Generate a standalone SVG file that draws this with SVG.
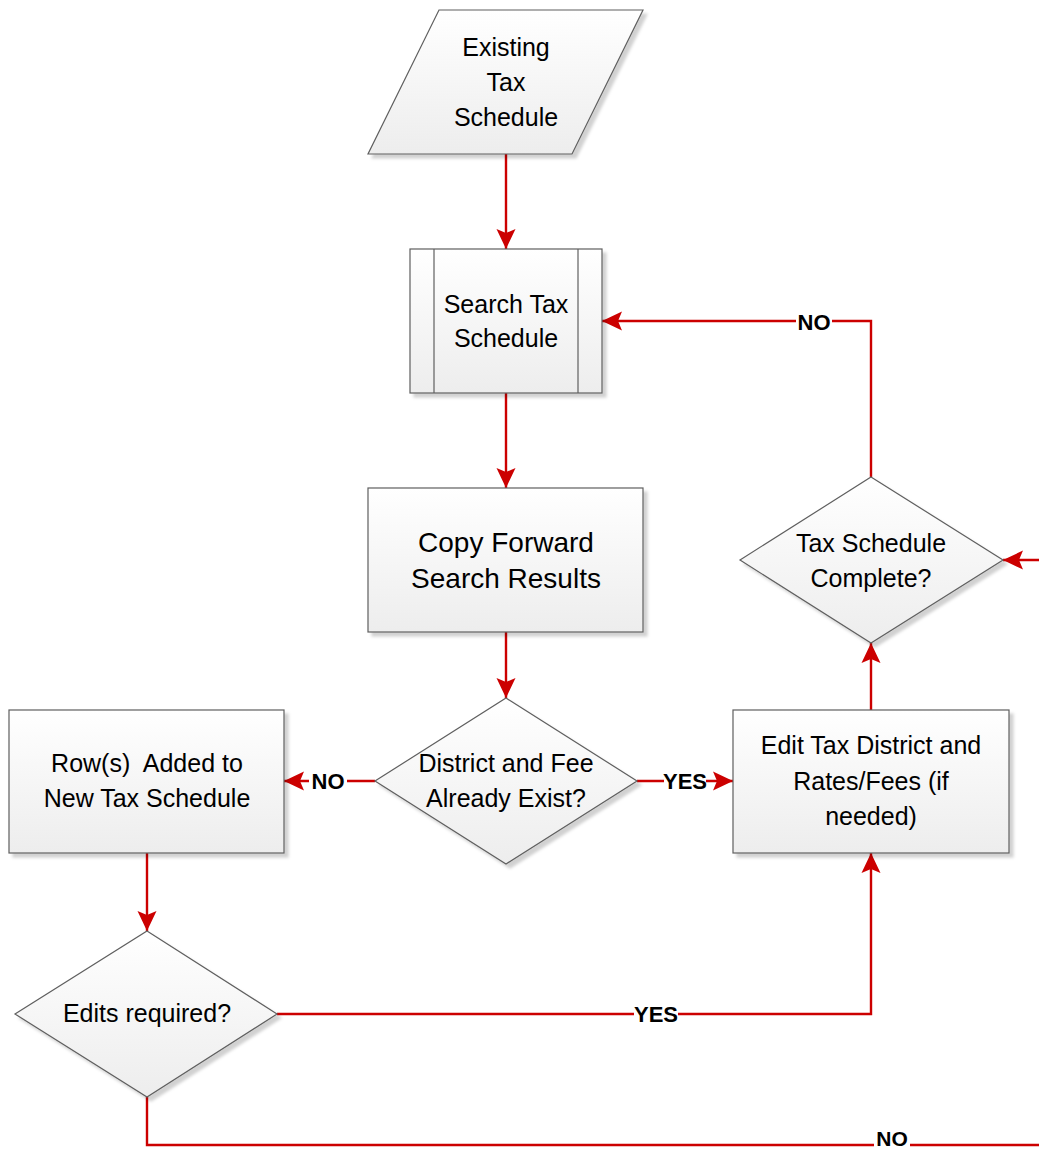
<svg xmlns="http://www.w3.org/2000/svg" width="1039" height="1151" viewBox="0 0 1039 1151">
  <defs>
    <linearGradient id="fillGrad" x1="0" y1="0" x2="0" y2="1">
      <stop offset="0" stop-color="#ffffff"/>
      <stop offset="1" stop-color="#ededed"/>
    </linearGradient>
    <filter id="shadow" x="-10%" y="-10%" width="125%" height="125%">
      <feGaussianBlur in="SourceAlpha" stdDeviation="1.5" result="blur"/>
      <feOffset in="blur" dx="4" dy="4" result="off"/>
      <feFlood flood-color="#000000" flood-opacity="0.18"/>
      <feComposite in2="off" operator="in" result="sh"/>
      <feMerge>
        <feMergeNode in="sh"/>
        <feMergeNode in="SourceGraphic"/>
      </feMerge>
    </filter>
    <marker id="arrow" markerUnits="userSpaceOnUse" markerWidth="22" markerHeight="22" viewBox="0 0 22 22" refX="20" refY="11" orient="auto">
      <path d="M0,1.5 L20,11 L0,20.5 L4,11 Z" fill="#cc0000"/>
    </marker>
  </defs>
  <style>
    .node { fill: url(#fillGrad); stroke: #5f5f5f; stroke-width: 1.2; filter: url(#shadow); }
    .inner { stroke: #5f5f5f; stroke-width: 1.2; fill: none; }
    .txt { font-family: "Liberation Sans", Arial, sans-serif; font-size: 25px; fill: #000; text-anchor: middle; }
    .big { font-size: 28px; }
    .conn { fill: none; stroke: #cc0000; stroke-width: 2.4; }
    .arr { marker-end: url(#arrow); }
    .lbl { font-family: "Liberation Sans", Arial, sans-serif; font-size: 22px; font-weight: bold; fill: #000; text-anchor: middle; }
    .lblbg { fill: #ffffff; }
  </style>

  <g id="connectors">
    <path class="conn arr" d="M506,154 L506,249"/>
    <path class="conn arr" d="M506,393 L506,488"/>
    <path class="conn arr" d="M506,632 L506,698"/>
    <path class="conn arr" d="M375,781 L284,781"/>
    <path class="conn arr" d="M637,781 L733,781"/>
    <path class="conn arr" d="M871,710 L871,643"/>
    <path class="conn arr" d="M871,477 L871,321 L602,321"/>
    <path class="conn arr" d="M147,853 L147,931"/>
    <path class="conn arr" d="M277,1014 L871,1014 L871,853"/>
    <path class="conn" d="M147,1097 L147,1145 L1039,1145"/>
    <path class="conn arr" d="M1039,560 L1003,560"/>

    <!-- branch labels -->
    <rect class="lblbg" x="796" y="310" width="36" height="24"/>
    <text class="lbl" x="814" y="330">NO</text>
    <rect class="lblbg" x="309" y="770" width="38" height="24"/>
    <text class="lbl" x="328" y="789">NO</text>
    <rect class="lblbg" x="664" y="770" width="42" height="24"/>
    <text class="lbl" x="685" y="789">YES</text>
    <rect class="lblbg" x="634" y="1003" width="44" height="24"/>
    <text class="lbl" x="656" y="1022">YES</text>
    <rect class="lblbg" x="874" y="1129" width="36" height="22"/>
    <text class="lbl" x="892" y="1146" style="font-size:21px">NO</text>
  </g>

  <g id="existing-tax-schedule">
    <polygon class="node" points="439,10 643,10 572,154 368,154"/>
    <text class="txt" x="506" y="56">Existing</text>
    <text class="txt" x="506" y="91">Tax</text>
    <text class="txt" x="506" y="126">Schedule</text>
  </g>

  <g id="search-tax-schedule">
    <rect class="node" x="410" y="249" width="192" height="144"/>
    <line class="inner" x1="434" y1="249" x2="434" y2="393"/>
    <line class="inner" x1="578" y1="249" x2="578" y2="393"/>
    <text class="txt" x="506" y="313">Search Tax</text>
    <text class="txt" x="506" y="347">Schedule</text>
  </g>

  <g id="copy-forward">
    <rect class="node" x="368" y="488" width="275" height="144"/>
    <text class="txt big" x="506" y="552">Copy Forward</text>
    <text class="txt big" x="506" y="588">Search Results</text>
  </g>

  <g id="district-fee-exist">
    <polygon class="node" points="506,698 637,781 506,864 375,781"/>
    <text class="txt" x="506" y="772">District and Fee</text>
    <text class="txt" x="506" y="807">Already Exist?</text>
  </g>

  <g id="rows-added">
    <rect class="node" x="9" y="710" width="275" height="143"/>
    <text class="txt" x="147" y="772" style="white-space:pre">Row(s)  Added to</text>
    <text class="txt" x="147" y="807">New Tax Schedule</text>
  </g>

  <g id="edit-tax-district">
    <rect class="node" x="733" y="710" width="276" height="143"/>
    <text class="txt" x="871" y="754">Edit Tax District and</text>
    <text class="txt" x="871" y="790">Rates/Fees (if</text>
    <text class="txt" x="871" y="825">needed)</text>
  </g>

  <g id="tax-schedule-complete">
    <polygon class="node" points="871,477 1003,560 871,643 740,560"/>
    <text class="txt" x="871" y="552">Tax Schedule</text>
    <text class="txt" x="871" y="587">Complete?</text>
  </g>

  <g id="edits-required">
    <polygon class="node" points="147,931 277,1014 147,1097 15,1014"/>
    <text class="txt" x="147" y="1022">Edits required?</text>
  </g>
</svg>
